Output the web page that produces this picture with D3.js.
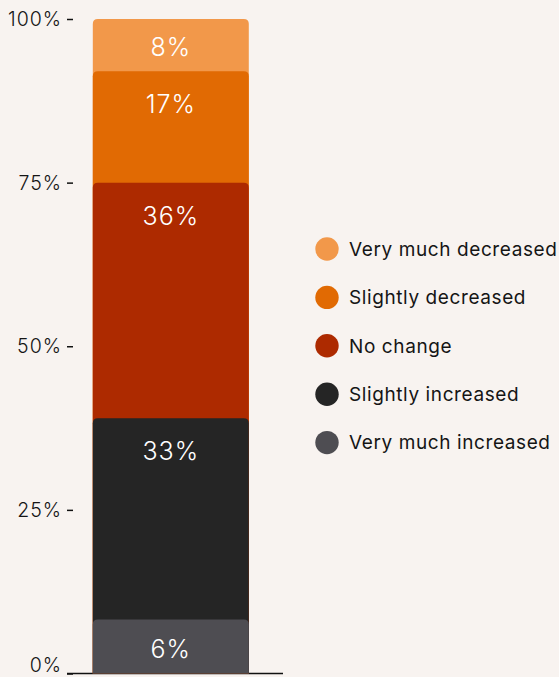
<!DOCTYPE html>
<html>
<head>
<meta charset="utf-8">
<script src="https://cdn.jsdelivr.net/npm/d3@7"></script>
<style>
  html, body { margin: 0; padding: 0; background: #f8f3f0; }
  svg { display: block; }
  text { font-family: Inter, Lato, sans-serif; }
</style>
</head>
<body>
<svg id="chart" width="559" height="677"></svg>
<script>
// Survey responses, stacked bottom to top
const categories = ["All respondents"];
const seriesNames = ["Very much increased", "Slightly increased", "No change", "Slightly decreased", "Very much decreased"];
const seriesValues = [6, 33, 36, 17, 8];
const seriesColors = ["#4e4d52", "#252525", "#ad2a00", "#e16a03", "#f2984a"];
const tickValues = [0, 25, 50, 75, 100];
const tickLabels = ["0%", "25%", "50%", "75%", "100%"];
const legendOrder = ["Very much decreased", "Slightly decreased", "No change", "Slightly increased", "Very much increased"];

const svg = d3.select("#chart");

const y = d3.scaleLinear().domain([0, 100]).range([673.5, 19]);
const x = d3.scaleBand().domain(categories).range([67, 283]).padding(0.1613).align(0.43);

// cumulative tops of each stacked segment
const stackData = seriesNames.map((name, i) => ({
  name,
  value: seriesValues[i],
  color: seriesColors[i],
  top: d3.sum(seriesValues.slice(0, i + 1))
}));

// baseline
svg.append("line")
  .attr("x1", 67).attr("x2", 283)
  .attr("y1", y(0)).attr("y2", y(0))
  .attr("stroke", "#111").attr("stroke-width", 1.6);

// y axis ticks and labels
const axis = svg.append("g")
  .attr("transform", "translate(73,0)")
  .call(d3.axisLeft(y).tickValues(tickValues).tickFormat((d, i) => tickLabels[i]).tickSize(6).tickPadding(5));
axis.select(".domain").remove();
axis.selectAll(".tick line").attr("stroke", "#111").attr("stroke-width", 1.5);
axis.selectAll(".tick text")
  .attr("fill", "#151515")
  .style("font-size", "19.5px")
  .style("font-weight", 350)
  .style("letter-spacing", "1px")
  .attr("dy", d => d === 0 ? "-0.1em" : "0.34em");

// segments are drawn from the baseline up to their cumulative value,
// largest first; the smallest keep a minimum height so their labels fit
const minSegPx = 54;
const r = 5;
const x0 = x(categories[0]);
const bw = x.bandwidth();
const base = y(0);
stackData.forEach(d => {
  d.yTop = Math.min(y(d.top), base - minSegPx);
});
stackData.forEach((d, i) => {
  d.yBottom = i === 0 ? base : stackData[i - 1].yTop;
});

function topRounded(x, yt, w, yb, rad) {
  return `M${x},${yb}V${yt + rad}Q${x},${yt} ${x + rad},${yt}H${x + w - rad}Q${x + w},${yt} ${x + w},${yt + rad}V${yb}Z`;
}

const bars = svg.append("g");
bars.selectAll("path")
  .data(stackData.slice().reverse())
  .join("path")
  .attr("d", d => topRounded(x0, d.yTop, bw, base, r))
  .attr("fill", d => d.color);

bars.selectAll("text")
  .data(stackData)
  .join("text")
  .attr("x", x0 + bw / 2)
  .attr("y", d => d.yTop + Math.min((d.yBottom - d.yTop) / 2, 31) + 2)
  .attr("text-anchor", "middle")
  .attr("dominant-baseline", "central")
  .attr("fill", "#ffffff")
  .style("font-size", "25px")
  .style("font-weight", 300)
  .style("letter-spacing", "1px")
  .text(d => d.value + "%");

// legend
const colorOf = name => seriesColors[seriesNames.indexOf(name)];
const legend = svg.append("g").attr("transform", "translate(327,249)");
const rows = legend.selectAll("g")
  .data(legendOrder)
  .join("g")
  .attr("transform", (d, i) => `translate(0,${i * 48.4})`);
rows.append("circle").attr("r", 11.7).attr("fill", d => colorOf(d));
rows.append("text")
  .attr("x", 22)
  .attr("dy", "0.36em")
  .attr("fill", "#151515")
  .style("font-size", "19px")
  .style("font-weight", 400)
  .style("letter-spacing", "0.6px")
  .text(d => d);
</script>
</body>
</html>
